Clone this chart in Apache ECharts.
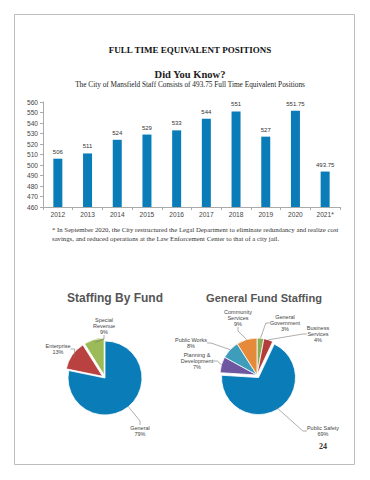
<!DOCTYPE html>
<html>
<head>
<meta charset="utf-8">
<script src="https://cdn.jsdelivr.net/npm/echarts@6/dist/echarts.min.js"></script>
<style>html,body{margin:0;padding:0;background:#fff;}#c{width:370px;height:480px;}</style>
</head>
<body>
<div id="c"></div>
<script>
// ---- data ----
const years = ['2012','2013','2014','2015','2016','2017','2018','2019','2020','2021*'];
const positions = [506, 511, 524, 529, 533, 544, 551, 527, 551.75, 493.75];

const fundLabels = ['General', 'Enterprise', 'Special\nRevenue'];
const fundShares = [79, 13, 9];

const genFundLabels = ['General\nGovernment', 'Business\nServices', 'Public Safety', 'Planning &\nDevelopment', 'Public Works', 'Community\nServices'];
const genFundShares = [3, 4, 69, 7, 8, 9];

// ---- styles / layout ----
const fundColors = ['#0A7DB8', '#B9413F', '#9BBB59'];
const genColors = ['#8AAE55', '#B23D3B', '#0A7DB8', '#6E57A0', '#3E9DBB', '#E48A3A'];
const fundLabelPos = [[140, 431], [58, 349], [104, 326]];
const genLabelPos = [[285, 323], [318, 334], [323, 431], [197, 361], [191, 343], [238, 318]];
const fundCenter = [105, 378], genCenter = [257, 375];

const serif = '"Liberation Serif", "DejaVu Serif", serif';
const sans = '"Liberation Sans", Arial, sans-serif';

const chart = echarts.init(document.getElementById('c'), null, {renderer: 'svg'});

function layoutFrom(pos) {
  return function (p) {
    const xy = pos[p.dataIndex];
    return {x: xy[0], y: xy[1], align: 'center', verticalAlign: 'middle'};
  };
}

function pieSeries(center, names, values, colors, explode) {
  return {
    type: 'pie',
    center: center,
    radius: 37,
    startAngle: 90,
    clockwise: true,
    selectedMode: 'multiple',
    selectedOffset: 3,
    silent: true,
    itemStyle: {borderColor: '#fff', borderWidth: 0.8},
    label: {show: false},
    labelLine: {show: false},
    data: names.map((n, i) => ({name: n, value: values[i], selected: explode(i), itemStyle: {color: colors[i]}}))
  };
}

function pieLabelSeries(center, names, values, pos) {
  return {
    type: 'pie',
    center: center,
    radius: 37,
    startAngle: 90,
    clockwise: true,
    silent: true,
    z: 5,
    itemStyle: {color: 'rgba(0,0,0,0)', borderWidth: 0},
    label: {
      show: true, fontFamily: sans, fontSize: 5.5, lineHeight: 6, color: '#444', align: 'center',
      formatter: p => p.name + '\n' + p.value + '%'
    },
    labelLine: {show: true, length: 6, length2: 4, lineStyle: {color: '#777', width: 0.6}},
    labelLayout: layoutFrom(pos),
    data: names.map((n, i) => ({name: n, value: values[i]}))
  };
}

chart.setOption({
  animation: false,
  backgroundColor: '#fff',
  graphic: [
    {type: 'rect', shape: {x: 14.5, y: 14.5, width: 340, height: 450}, style: {fill: 'none', stroke: '#bdbdbd', lineWidth: 1}}
  ],
  title: [
    {text: 'FULL TIME EQUIVALENT POSITIONS', left: 185, textAlign: 'center', top: 40, textStyle: {fontFamily: serif, fontWeight: 'bold', fontSize: 9, color: '#111'}},
    {text: 'Did You Know?', left: 185, textAlign: 'center', top: 64, textStyle: {fontFamily: serif, fontWeight: 'bold', fontSize: 10.5, color: '#222'}},
    {text: 'The City of Mansfield Staff Consists of 493.75 Full Time Equivalent Positions', left: 185, textAlign: 'center', top: 76, textStyle: {fontFamily: serif, fontWeight: 'normal', fontSize: 7.3, color: '#222'}},
    {text: '* In September 2020, the City restructured the Legal Department to eliminate redundancy and realize cost\nsavings, and reduced operations at the Law Enforcement Center to that of a city jail.', left: 47, top: 220, textStyle: {fontFamily: serif, fontWeight: 'normal', fontSize: 6.75, lineHeight: 9, color: '#333'}},
    {text: 'Staffing By Fund', left: 110, textAlign: 'center', top: 287, textStyle: {fontFamily: sans, fontWeight: 'bold', fontSize: 12, color: '#555'}},
    {text: 'General Fund Staffing', left: 259, textAlign: 'center', top: 287, textStyle: {fontFamily: sans, fontWeight: 'bold', fontSize: 11.1, color: '#555'}},
    {text: '24', left: 318, textAlign: 'center', top: 437, textStyle: {fontFamily: serif, fontWeight: 'bold', fontSize: 8, color: '#333'}}
  ],
  grid: {left: 43, right: 30, top: 102, bottom: 273, containLabel: false},
  xAxis: {
    type: 'category',
    data: years,
    axisLine: {show: true, lineStyle: {color: '#aaa', width: 1}},
    axisTick: {show: true, alignWithLabel: false, length: 3, lineStyle: {color: '#aaa'}},
    axisLabel: {fontFamily: sans, fontSize: 6.6, color: '#444', margin: 4}
  },
  yAxis: {
    type: 'value',
    min: 460, max: 560, interval: 10,
    splitLine: {show: false},
    axisLine: {show: true, lineStyle: {color: '#aaa', width: 1}},
    axisTick: {show: true, length: 3, lineStyle: {color: '#aaa'}},
    axisLabel: {fontFamily: sans, fontSize: 6.6, color: '#444', margin: 5}
  },
  series: [
    {
      type: 'bar',
      data: positions,
      barWidth: 9,
      itemStyle: {color: '#0A7DB8'},
      label: {show: true, position: 'top', distance: 4, fontFamily: sans, fontSize: 6, color: '#333'}
    },
    pieSeries(fundCenter, fundLabels, fundShares, fundColors, i => i > 0),
    pieLabelSeries(fundCenter, fundLabels, fundShares, fundLabelPos),
    pieSeries(genCenter, genFundLabels, genFundShares, genColors, i => i === 2),
    pieLabelSeries(genCenter, genFundLabels, genFundShares, genLabelPos)
  ]
});
</script>
</body>
</html>
